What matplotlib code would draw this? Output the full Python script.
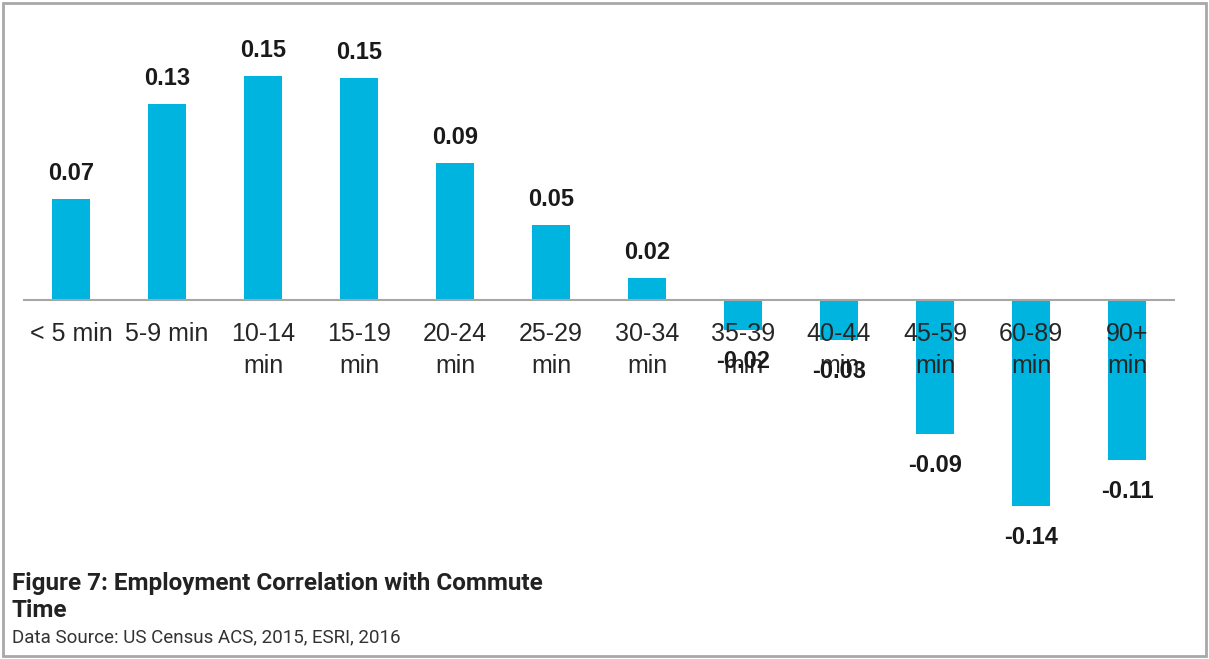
import matplotlib
matplotlib.use("Agg")
import matplotlib.pyplot as plt
from matplotlib.patches import Rectangle

categories = ["< 5 min", "5-9 min", "10-14\nmin", "15-19\nmin", "20-24\nmin", "25-29\nmin",
              "30-34\nmin", "35-39\nmin", "40-44\nmin", "45-59\nmin", "60-89\nmin", "90+\nmin"]
values = [0.068, 0.131, 0.150, 0.149, 0.092, 0.050, 0.015, -0.020, -0.027, -0.090, -0.138, -0.107]
value_labels = ["0.07", "0.13", "0.15", "0.15", "0.09", "0.05", "0.02", "-0.02", "-0.03", "-0.09", "-0.14", "-0.11"]
title_text = "Figure 7: Employment Correlation with Commute\nTime"
source_text = "Data Source: US Census ACS, 2015, ESRI, 2016"

BAR = "#00B4E0"
W, H = 1209, 659
fig = plt.figure(figsize=(W / 100, H / 100), dpi=100)
fig.patch.set_facecolor("white")

# axes: x from 23 to 1175 px, y from 40 to 560 px (top-origin)
ax = fig.add_axes([23 / W, (H - 560) / H, (1175 - 23) / W, 520 / H])
ax.set_xlim(-0.5, len(categories) - 0.5)
ax.set_ylim(-0.1742, 0.1742)
ax.axis("off")

x = list(range(len(categories)))
ax.bar(x, values, width=0.40, color=BAR, zorder=2)
ax.axhline(0, color="#a6a6a6", lw=1.5, zorder=3)

for xi, v, lab in zip(x, values, value_labels):
    off = 14 if v >= 0 else -20
    ax.annotate(lab, (xi, v), xytext=(0, off), textcoords="offset pixels",
                ha="center", va="bottom" if v >= 0 else "top",
                fontsize=17, fontweight="bold", family="Liberation Sans", color="#1a1a1a", zorder=5)

for xi, c in zip(x, categories):
    ax.annotate(c, (xi, 0), xytext=(0, -22), textcoords="offset pixels",
                ha="center", va="top", fontsize=18, family="Liberation Sans",
                color="#262626", linespacing=1.4, zorder=4)

fig.text(12 / W, 1 - 572 / H, title_text, ha="left", va="top", fontsize=17.5,
         fontweight="bold", family="Roboto", color="#222222", linespacing=1.2)
fig.text(12 / W, 1 - 628 / H, source_text, ha="left", va="top", fontsize=13.5,
         family="Roboto", color="#333333")

fig.patches.append(Rectangle((3 / W, 3 / H), (W - 6) / W, (H - 6) / H, transform=fig.transFigure,
                             fill=False, edgecolor="#a8a8a8", lw=2))

fig.savefig("out.png", dpi=100, facecolor="white")
